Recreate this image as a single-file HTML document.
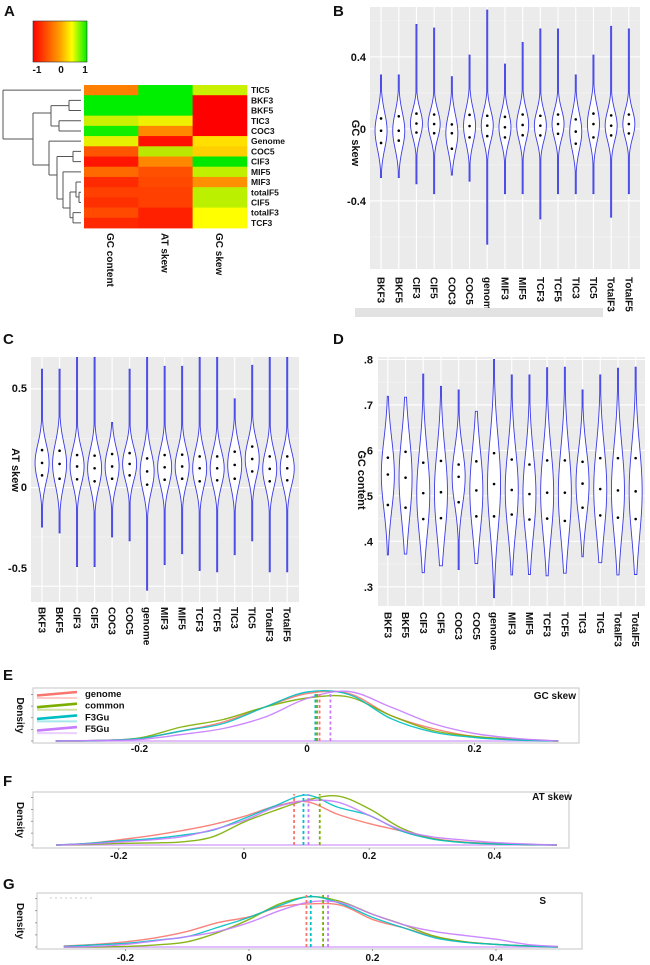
<!DOCTYPE html>
<html><head><meta charset="utf-8"><style>
html,body{margin:0;padding:0;background:#fff;}
svg{display:block;font-family:"Liberation Sans",Arial,sans-serif;}
</style></head><body>
<svg id="fig" width="650" height="965" viewBox="0 0 650 965" xmlns="http://www.w3.org/2000/svg">
<defs>
<linearGradient id="cbar" x1="0" x2="1" y1="0" y2="0">
<stop offset="0" stop-color="#ff0000"/><stop offset="0.5" stop-color="#ffa000"/><stop offset="0.72" stop-color="#ffff00"/><stop offset="1" stop-color="#00ee00"/>
</linearGradient>
</defs>
</svg>
<script>
// ---------- DATA ----------
const hmRows = ["TIC5","BKF3","BKF5","TIC3","COC3","Genome","COC5","CIF3","MIF5","MIF3","totalF5","CIF5","totalF3","TCF3"];
const hmCols = ["GC content","AT skew","GC skew"];
const hmGC = ["#ff7f00","#00ee00","#00ee00","#ccf000","#11ee00","#e6f000","#ff5500","#ff1500","#ff6a00","#ff2a00","#ff4000","#ff3000","#ff4a00","#ff2800"];
const hmAT = ["#00ee00","#00ee00","#00ee00","#eef000","#ff8800","#ff1000","#bbe800","#ff8800","#ff5000","#ff4800","#ff4000","#ff4000","#ff2000","#ff2000"];
const hmSk = ["#c8f000","#ff0000","#ff0000","#ff0000","#ff0000","#ffe000","#ffd000","#00e800","#c0f000","#ff9000","#bbf000","#bbf000","#ffff00","#ffff00"];

const vCats = ["BKF3","BKF5","CIF3","CIF5","COC3","COC5","genome","MIF3","MIF5","TCF3","TCF5","TIC3","TIC5","TotalF3","TotalF5"];
// Panel B: GC skew
const bMax = [0.30,0.30,0.58,0.56,0.29,0.41,0.66,0.36,0.48,0.555,0.555,0.30,0.41,0.57,0.555];
const bMin = [-0.27,-0.27,-0.305,-0.36,-0.256,-0.29,-0.64,-0.36,-0.36,-0.50,-0.36,-0.36,-0.36,-0.49,-0.36];
const bQ3 = [0.058,0.07,0.085,0.08,0.025,0.078,0.073,0.067,0.08,0.073,0.08,0.053,0.085,0.075,0.08];
const bMed = [-0.01,-0.01,0.03,0.027,-0.024,0.016,0.018,0.009,0.022,0.018,0.027,-0.015,0.027,0.018,0.027];
const bQ1 = [-0.078,-0.065,-0.02,-0.024,-0.11,-0.047,-0.04,-0.047,-0.035,-0.036,-0.027,-0.082,-0.047,-0.036,-0.025];
const bTicks = [0.4,0,-0.4];
const bTickLabels = ["0.4","0","-0.4"];
// Panel C: AT skew
const cMax = [0.60,0.60,0.66,0.66,0.33,0.60,0.66,0.615,0.615,0.66,0.66,0.45,0.62,0.66,0.66];
const cMin = [-0.20,-0.23,-0.40,-0.40,-0.25,-0.27,-0.52,-0.39,-0.335,-0.42,-0.427,-0.34,-0.27,-0.427,-0.427];
const cQ3 = [0.19,0.187,0.165,0.162,0.17,0.175,0.148,0.165,0.167,0.158,0.158,0.182,0.208,0.158,0.158];
const cMed = [0.125,0.12,0.107,0.098,0.107,0.12,0.082,0.103,0.107,0.098,0.098,0.115,0.145,0.095,0.098];
const cQ1 = [0.062,0.045,0.042,0.032,0.045,0.062,0.015,0.04,0.045,0.032,0.037,0.045,0.082,0.032,0.037];
const cTicks = [0.5,0,-0.5];
const cTickLabels = ["0.5","0","-0.5"];
// Panel D: GC content
const dMax = [0.719,0.717,0.768,0.741,0.733,0.686,0.80,0.766,0.766,0.782,0.783,0.733,0.766,0.781,0.783];
const dMin = [0.37,0.372,0.331,0.346,0.338,0.351,0.276,0.326,0.327,0.324,0.33,0.366,0.353,0.326,0.327];
const dQ3 = [0.584,0.597,0.573,0.577,0.569,0.576,0.594,0.58,0.569,0.578,0.578,0.575,0.583,0.583,0.583];
const dMed = [0.547,0.54,0.506,0.508,0.542,0.512,0.526,0.513,0.504,0.507,0.507,0.527,0.515,0.512,0.51];
const dQ1 = [0.48,0.474,0.449,0.451,0.486,0.455,0.455,0.459,0.448,0.45,0.445,0.474,0.457,0.452,0.449];
const dTicks = [0.8,0.7,0.6,0.5,0.4,0.3];
const dTickLabels = [".8",".7",".6",".5",".4",".3"];

// Density panels
const densSeries = ["genome","common","F3Gu","F5Gu"];
const eX = [-0.3,-0.25,-0.2,-0.15,-0.1,-0.05,0,0.05,0.1,0.15,0.2,0.25,0.3];
const eGenome = [0,0.01,0.05,0.2,0.38,0.68,0.95,0.95,0.51,0.25,0.09,0.03,0];
const eCommon = [0,0.01,0.06,0.28,0.43,0.68,0.86,0.88,0.51,0.21,0.09,0.03,0];
const eF3 = [0,0.01,0.05,0.2,0.35,0.68,0.98,0.93,0.45,0.18,0.07,0.02,0];
const eF5 = [0,0.01,0.03,0.13,0.25,0.48,0.85,0.99,0.68,0.35,0.15,0.05,0];
const eMeans = [0.015,0.012,0.010,0.028];
const eTicks = [-0.2,0,0.2];
const fgX = [-0.3,-0.25,-0.2,-0.15,-0.1,-0.05,0,0.05,0.1,0.15,0.2,0.25,0.3,0.35,0.4,0.45,0.5];
const fGenome = [0,0.03,0.1,0.18,0.28,0.4,0.56,0.76,0.85,0.6,0.42,0.28,0.13,0.06,0.03,0.01,0];
const fCommon = [0,0.01,0.03,0.04,0.06,0.16,0.45,0.68,0.88,0.96,0.71,0.34,0.13,0.05,0.02,0.01,0];
const fF3 = [0,0.03,0.08,0.12,0.19,0.29,0.52,0.77,0.98,0.74,0.58,0.28,0.12,0.05,0.02,0.01,0];
const fF5 = [0,0.02,0.06,0.1,0.16,0.3,0.48,0.74,0.87,0.84,0.58,0.3,0.16,0.1,0.05,0.02,0];
const fMeans = [0.08,0.121,0.095,0.103];
const gGenome = [0.02,0.05,0.1,0.18,0.3,0.47,0.58,0.77,0.83,0.8,0.53,0.37,0.2,0.1,0.05,0.02,0.01];
const gCommon = [0,0,0.01,0.04,0.1,0.28,0.53,0.83,0.97,0.87,0.63,0.43,0.21,0.1,0.05,0.02,0];
const gF3 = [0.01,0.04,0.07,0.13,0.2,0.38,0.57,0.8,0.97,0.83,0.57,0.37,0.18,0.09,0.05,0.02,0];
const gF5 = [0,0.01,0.05,0.12,0.2,0.3,0.47,0.7,0.87,0.85,0.63,0.43,0.3,0.22,0.15,0.05,0.01];
const gMeans = [0.093,0.12,0.1,0.128];
const fgTicks = [-0.2,0,0.2,0.4];

// ---------- HELPERS ----------
const NS = "http://www.w3.org/2000/svg";
const svg = document.getElementById("fig");
function mk(tag, attrs, parent){
  const el = document.createElementNS(NS, tag);
  for (const k in attrs) el.setAttribute(k, attrs[k]);
  (parent||svg).appendChild(el);
  return el;
}
function txt(s, x, y, size, extra, parent){
  const t = mk("text", Object.assign({x:x,y:y,"font-size":size,"font-weight":"bold",fill:"#111"}, extra||{}), parent);
  t.textContent = s;
  return t;
}
const seriesColors = ["#f8766d","#7cae00","#00bfc4","#c77cff"];

// ---------- PANEL LABELS ----------
[["A",4,16],["B",333,16],["C",3,344],["D",333,344],["E",3,680],["F",3,786],["G",3,889]].forEach(p=>{
  const t = txt(p[0], p[1], p[2], 15);
  
  
});

// ---------- PANEL A: HEATMAP ----------
const gA = mk("g", {});


const cb = mk("rect", {x:33,y:21,width:54,height:41,fill:"url(#cbar)",stroke:"#333","stroke-width":0.6}, gA);


[["-1",37],["0",61],["1",85]].forEach(l=>{
  const t = txt(l[0], l[1], 73, 10, {"text-anchor":"middle"}, gA);
  
  
});
const hmX0 = 84, hmW = 54.3, hmY0 = 85, hmH = (228-85)/hmRows.length;
const hmData = [hmGC, hmAT, hmSk];
hmRows.forEach((r,i)=>{
  hmData.forEach((col,j)=>{
    const c = mk("rect", {x:hmX0+j*hmW, y:hmY0+i*hmH, width:hmW+0.4, height:hmH+0.4, fill:col[i]}, gA);
    
    
  });
  const t = txt(r, 251, hmY0+(i+0.5)*hmH+3, 8.5, {}, gA);
  
  
});
hmCols.forEach((c,j)=>{
  const cx = hmX0+(j+0.5)*hmW - 4;
  const t = txt(c, cx, 233, 10, {transform:"rotate(90 "+cx+" 233)"}, gA);
  
  
});
// dendrogram
const ry = i => hmY0+(i+0.5)*hmH;
const dendro = mk("path", {fill:"none",stroke:"#555","stroke-width":1}, gA);


let d = "";
function seg(x1,y1,x2,y2){ d += "M"+x1+" "+y1+"L"+x2+" "+y2; }
seg(3,ry(0),3,139); seg(3,ry(0),81,ry(0)); seg(3,139,33,139);
seg(33,113,33,165); seg(33,113,51,113); seg(33,165,49,165);
seg(51,105.6,51,126); seg(51,105.6,69,105.6); seg(51,126,59,126);
seg(69,ry(1),69,ry(2)); seg(69,ry(1),81,ry(1)); seg(69,ry(2),81,ry(2));
seg(59,ry(3),59,ry(4)); seg(59,ry(3),81,ry(3)); seg(59,ry(4),81,ry(4));
seg(49,ry(5),49,175); seg(49,ry(5),81,ry(5)); seg(49,175,57,175);
seg(57,156.5,57,199); seg(57,156.5,73,156.5); seg(57,199,63,199);
seg(73,ry(6),73,ry(7)); seg(73,ry(6),81,ry(6)); seg(73,ry(7),81,ry(7));
seg(63,ry(8),63,208); seg(63,ry(8),81,ry(8)); seg(63,208,70,208);
seg(70,192,70,217.7); seg(70,192,76,192); seg(70,217.7,73,217.7);
seg(76,ry(9),76,197); seg(76,ry(9),81,ry(9)); seg(76,197,79,197);
seg(79,ry(10),79,ry(11)); seg(79,ry(10),81,ry(10)); seg(79,ry(11),81,ry(11));
seg(73,ry(12),73,ry(13)); seg(73,ry(12),81,ry(12)); seg(73,ry(13),81,ry(13));
dendro.setAttribute("d", d);

// ---------- VIOLIN PANELS ----------
function violinPanel(cfg){
  const g = mk("g", {});
  
  
  const y = v => cfg.py0 + (cfg.vTop - v) / (cfg.vTop - cfg.vBot) * (cfg.py1 - cfg.py0);
  const step = (cfg.px1 - cfg.pad - cfg.x0) / vCats.length;
  const x = i => cfg.x0 + (i+0.5)*step;
  const bg = mk("rect", {x:cfg.px0,y:cfg.py0,width:cfg.px1-cfg.px0,height:cfg.py1-cfg.py0,fill:"#ebebeb"}, g);
  
  
  cfg.minor.forEach(v=>{
    const l = mk("line", {x1:cfg.px0,x2:cfg.px1,y1:y(v),y2:y(v),stroke:"#f6f6f6","stroke-width":0.6}, g);
    
    
  });
  cfg.ticks.forEach((v,k)=>{
    const l = mk("line", {x1:cfg.px0,x2:cfg.px1,y1:y(v),y2:y(v),stroke:"#fff","stroke-width":1.1}, g);
    
    
    const ly = cfg.labelY ? cfg.labelY[k] : y(v)+4;
    const t = txt(cfg.tickLabels[k], cfg.tickX, ly, 11, {"text-anchor":"end"}, g);
    
    
  });
  vCats.forEach((c,i)=>{
    const l = mk("line", {x1:x(i),x2:x(i),y1:cfg.py0,y2:cfg.py1,stroke:"#fff","stroke-width":1.1}, g);
    
    
  });
  vCats.forEach((c,i)=>{
    const mx = cfg.max[i], mn = cfg.min[i], q1 = cfg.q1[i], md = cfg.med[i], q3 = cfg.q3[i];
    const s = Math.max((q3-q1)/1.35, 0.01);
    const n = 80, right = [], left = [];
    for (let k=0;k<=n;k++){
      const v = mx - (mx-mn)*k/n;
      const z = (v-md)/s;
      const hw = Math.max(0.5, cfg.W*Math.exp(-0.5*z*z));
      right.push((x(i)+hw).toFixed(2)+","+y(v).toFixed(2));
      left.unshift((x(i)-hw).toFixed(2)+","+y(v).toFixed(2));
    }
    const p = mk("polygon", {points:right.concat(left).join(" "),fill:"#fff",stroke:"#3a3ae6","stroke-width":0.9}, g);
    
    
    [q1,md,q3].forEach(q=>{
      const dot = mk("circle", {cx:x(i),cy:y(q),r:1.3,fill:"#000"}, g);
      
      
    });
    const ty = cfg.labelTop;
    const t = txt(c, x(i)-3.5, ty, 10, {transform:"rotate(90 "+(x(i)-3.5)+" "+ty+")"}, g);
    
    
  });
  const yl = txt(cfg.yTitle, cfg.yTitleX, cfg.yTitleY, 11, {"text-anchor":"middle",transform:"rotate(90 "+cfg.yTitleX+" "+cfg.yTitleY+")"}, g);
  
  
  return g;
}
const gB = violinPanel({name:"gc-skew-violin-panel",px0:370,px1:640,py0:7,py1:269,x0:372.2,pad:2.3,vTop:0.677,vBot:-0.778,
  ticks:bTicks,tickLabels:bTickLabels,minor:[0.6,0.2,-0.2,-0.6],tickX:366,W:6,
  max:bMax,min:bMin,q1:bQ1,med:bMed,q3:bQ3,labelTop:277,yTitle:"GC skew",yTitleX:352,yTitleY:143});
const strip = mk("rect", {x:355,y:308,width:248,height:9,fill:"#e2e2e2"}, gB);


violinPanel({name:"at-skew-violin-panel",px0:31,px1:299,py0:357,py1:602,x0:33.3,pad:3,vTop:0.662,vBot:-0.58,
  ticks:cTicks,tickLabels:cTickLabels,labelY:[392,491,572],minor:[0.25,-0.25],tickX:27,W:7,
  max:cMax,min:cMin,q1:cQ1,med:cMed,q3:cQ3,labelTop:607,yTitle:"AT skew",yTitleX:12,yTitleY:470});
violinPanel({name:"gc-content-violin-panel",px0:378,px1:645,py0:357,py1:606,x0:379,pad:0.5,vTop:0.8055,vBot:0.2577,
  ticks:dTicks,tickLabels:dTickLabels,minor:[0.75,0.65,0.55,0.45,0.35],tickX:373,W:6.5,
  max:dMax,min:dMin,q1:dQ1,med:dMed,q3:dQ3,labelTop:612,yTitle:"GC content",yTitleX:358,yTitleY:480});

// ---------- DENSITY PANELS ----------
function splinePath(pts){
  let s = "M"+pts[0][0].toFixed(2)+" "+pts[0][1].toFixed(2);
  for (let i=0;i<pts.length-1;i++){
    const p0 = pts[Math.max(0,i-1)], p1 = pts[i], p2 = pts[i+1], p3 = pts[Math.min(pts.length-1,i+2)];
    const c1 = [p1[0]+(p2[0]-p0[0])/6, p1[1]+(p2[1]-p0[1])/6];
    const c2 = [p2[0]-(p3[0]-p1[0])/6, p2[1]-(p3[1]-p1[1])/6];
    s += "C"+c1[0].toFixed(2)+" "+c1[1].toFixed(2)+" "+c2[0].toFixed(2)+" "+c2[1].toFixed(2)+" "+p2[0].toFixed(2)+" "+p2[1].toFixed(2);
  }
  return s;
}
function densityPanel(cfg){
  const g = mk("g", {});
  
  
  const x = v => cfg.zeroX + v*cfg.unit;
  const y = h => cfg.base - h*(cfg.base - cfg.top);
  const box = mk("rect", {x:cfg.bx0,y:cfg.by0,width:cfg.bx1-cfg.bx0,height:cfg.by1-cfg.by0,fill:"#fff",stroke:"#cfcfcf","stroke-width":1.2}, g);
  
  
  for (let k=0;k<5;k++){
    const ty = cfg.base - k*(cfg.base-cfg.top)/4.3;
    const tk = mk("line", {x1:cfg.bx0-2,x2:cfg.bx0,y1:ty,y2:ty,stroke:"#888","stroke-width":0.8}, g);
    
    
  }
  const bl = mk("line", {x1:x(cfg.xs[0]),x2:x(cfg.xs[cfg.xs.length-1]),y1:cfg.base,y2:cfg.base,stroke:"#d7a8ff","stroke-width":1.6}, g);
  
  
  cfg.series.forEach((vals,si)=>{
    const pts = cfg.xs.map((v,k)=>[x(v), y(vals[k])]);
    const p = mk("path", {d:splinePath(pts),fill:"none",stroke:seriesColors[si],"stroke-width":1.4,opacity:0.9}, g);
    
    
  });
  cfg.means.forEach((m,si)=>{
    const l = mk("line", {x1:x(m),x2:x(m),y1:cfg.base,y2:cfg.top,stroke:seriesColors[si],"stroke-width":1.8,"stroke-dasharray":"3,2.5"}, g);
    
    
  });
  cfg.ticks.forEach(v=>{
    const tk = mk("line", {x1:x(v),x2:x(v),y1:cfg.by1,y2:cfg.by1+2,stroke:"#888","stroke-width":0.8}, g);
    
    
    const t = txt(v===0?"0":String(v), x(v), cfg.tickY, 10, {"text-anchor":"middle"}, g);
    
    
  });
  const cy = (cfg.by0+cfg.by1)/2;
  const yl = txt("Density", 17, cy, 10, {"text-anchor":"middle",transform:"rotate(90 17 "+cy+")"}, g);
  
  
  const tt = txt(cfg.title, cfg.titleX, cfg.titleY, 10, {"text-anchor":"end"}, g);
  
  
  return g;
}
const gE = densityPanel({name:"gc-skew-density-panel",bx0:33,bx1:579,by0:688,by1:743,base:741,top:691,zeroX:307,unit:837.5,
  xs:eX,series:[eGenome,eCommon,eF3,eF5],means:eMeans,ticks:eTicks,tickY:752,title:"GC skew",titleX:576,titleY:699});
densityPanel({name:"at-skew-density-panel",bx0:33,bx1:569,by0:792,by1:848,base:845,top:794,zeroX:244,unit:626,
  xs:fgX,series:[fGenome,fCommon,fF3,fF5],means:fMeans,ticks:fgTicks,tickY:859,title:"AT skew",titleX:572,titleY:800});
const gG = densityPanel({name:"s-density-panel",bx0:37,bx1:582,by0:893,by1:949,base:947,top:895,zeroX:249,unit:617.5,
  xs:fgX,series:[gGenome,gCommon,gF3,gF5],means:gMeans,ticks:fgTicks,tickY:961,title:"S",titleX:546,titleY:904});
const dots = mk("line", {x1:50,x2:95,y1:898,y2:898,stroke:"#bbb","stroke-width":0.8,"stroke-dasharray":"2,3"}, gG);



// legend in E
densSeries.forEach((s,i)=>{
  const ly = 694 + i*11.7;
  const faint = mk("line", {x1:37,x2:77,y1:ly+4,y2:ly+4,stroke:seriesColors[i],"stroke-width":2,opacity:0.35}, gE);
  
  
  const l = mk("line", {x1:37,x2:77,y1:ly+1.5,y2:ly-2,stroke:seriesColors[i],"stroke-width":2.6}, gE);
  
  
  const t = txt(s, 85, ly+3, 9.5, {}, gE);
  
  
});
</script>
</body></html>
